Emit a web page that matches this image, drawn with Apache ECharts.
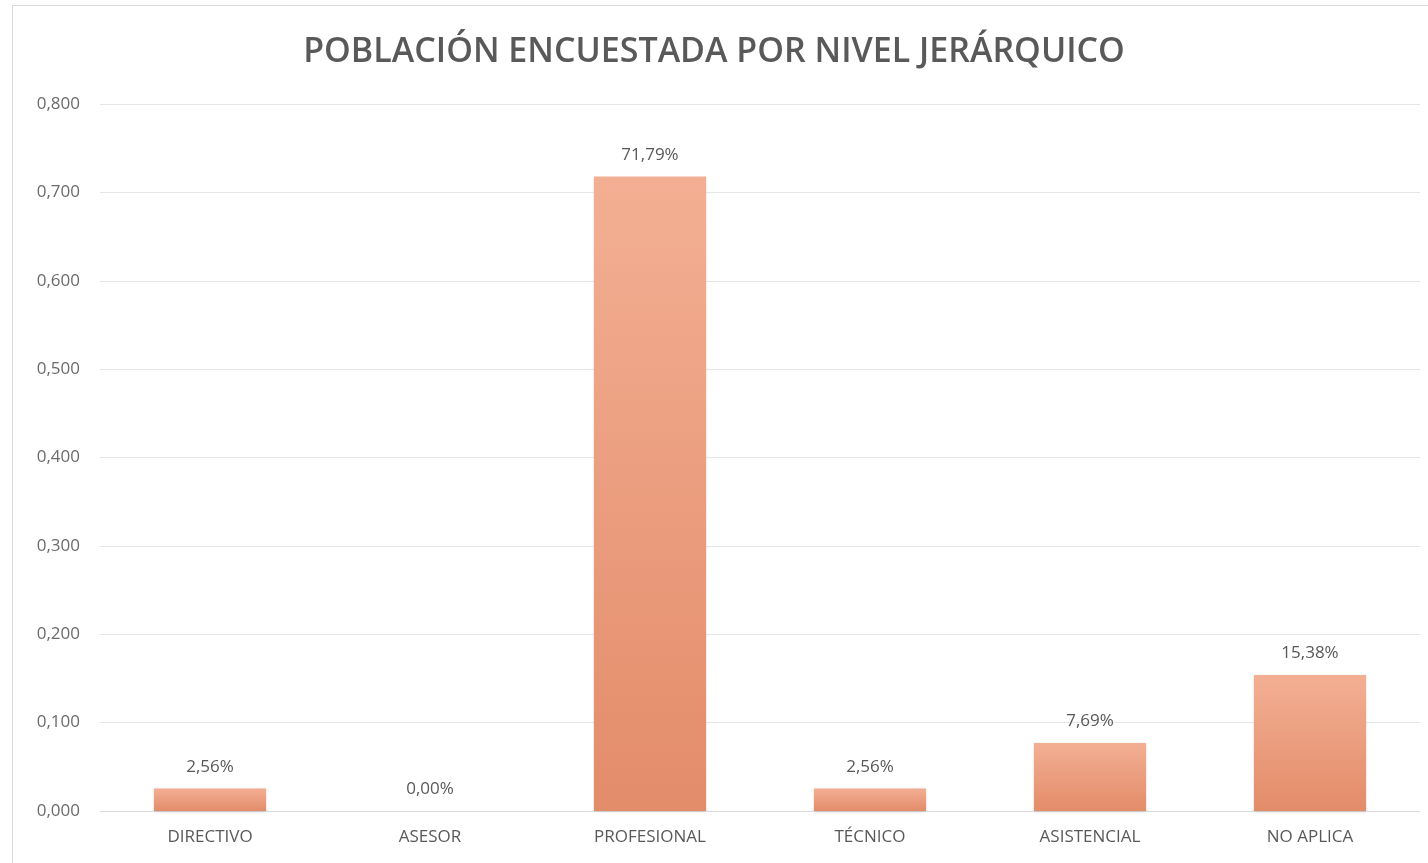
<!DOCTYPE html>
<html><head><meta charset="utf-8">
<script src="https://cdn.jsdelivr.net/npm/echarts@6/dist/echarts.min.js"></script>
<style>
html,body{margin:0;padding:0;background:#fff;}
#frame{position:absolute;left:12px;top:5px;width:1430px;height:880px;border:1px solid #d9d9d9;box-sizing:border-box;}
#c{position:absolute;left:0;top:0;width:1428px;height:863px;}
</style></head>
<body>
<div id="frame"></div>
<div id="c"></div>
<script>
const titleText = 'POBLACIÓN ENCUESTADA POR NIVEL JERÁRQUICO';
const categories = ['DIRECTIVO','ASESOR','PROFESIONAL','TÉCNICO','ASISTENCIAL','NO APLICA'];
const values = [0.0256, 0.0, 0.7179, 0.0256, 0.0769, 0.1538];
const yTicks = { min: 0, max: 0.8, interval: 0.1 };

const chart = echarts.init(document.getElementById('c'));
const font = '"Open Sans", sans-serif';
chart.setOption({
  animation: false,
  title: {
    text: titleText, left: 'center', top: 30,
    textStyle: { fontFamily: font, fontSize: 34, fontWeight: 600, color: '#595959' }
  },
  grid: { left: 100, right: 8, top: 104, bottom: 52, containLabel: false },
  xAxis: {
    type: 'category', data: categories,
    axisLine: { lineStyle: { color: '#d9d9d9', width: 1 } },
    axisTick: { show: false },
    axisLabel: { fontFamily: font, fontSize: 17, color: '#595959', margin: 18 }
  },
  yAxis: {
    type: 'value', min: yTicks.min, max: yTicks.max, interval: yTicks.interval,
    axisLine: { show: false }, axisTick: { show: false },
    splitLine: { lineStyle: { color: '#e6e6e6', width: 1 } },
    axisLabel: { fontFamily: font, fontSize: 17, color: '#6b6b6b', margin: 20,
      formatter: v => v.toFixed(3).replace('.', ',') }
  },
  series: [{
    type: 'bar', data: values, barWidth: '51%',
    itemStyle: {
      color: new echarts.graphic.LinearGradient(0, 0, 0, 1, [
        { offset: 0, color: '#f3af93' }, { offset: 1, color: '#e38c6a' }
      ]),
      shadowColor: 'rgba(0,0,0,0.15)', shadowBlur: 3, shadowOffsetY: 1
    },
    label: {
      show: true, position: 'top', distance: 13,
      fontFamily: font, fontSize: 17, color: '#595959',
      formatter: p => (p.value * 100).toFixed(2).replace('.', ',') + '%'
    }
  }]
});
</script>
</body></html>
